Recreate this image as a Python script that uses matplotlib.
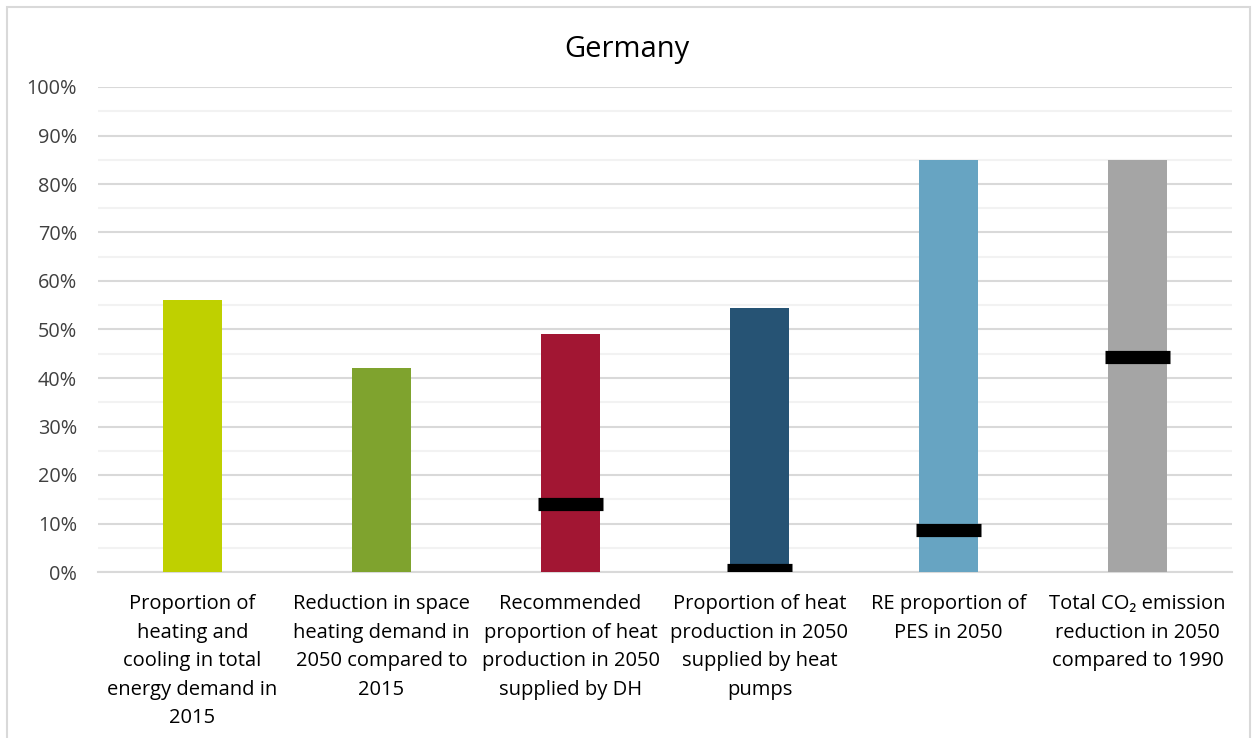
import matplotlib
matplotlib.use("Agg")
import matplotlib.pyplot as plt
from matplotlib.patches import Rectangle
from matplotlib.ticker import MultipleLocator, FuncFormatter

plt.rcParams['font.family'] = ['Open Sans', 'DejaVu Sans']

categories = [
    "Proportion of\nheating and\ncooling in total\nenergy demand in\n2015",
    "Reduction in space\nheating demand in\n2050 compared to\n2015",
    "Recommended\nproportion of heat\nproduction in 2050\nsupplied by DH",
    "Proportion of heat\nproduction in 2050\nsupplied by heat\npumps",
    "RE proportion of\nPES in 2050",
    "Total CO\u2082 emission\nreduction in 2050\ncompared to 1990",
]
bar_values = [0.561, 0.420, 0.490, 0.545, 0.850, 0.850]
marker_cats = [2, 3, 4, 5]
marker_values = [0.141, 0.005, 0.087, 0.443]
colors = ["#BFD000", "#7FA32E", "#A21633", "#265374", "#67A4C2", "#A5A5A5"]

fig = plt.figure(figsize=(12.54, 7.38), dpi=100)
ax = fig.add_axes([98/1254, 1 - 572/738, (1232-98)/1254, (572-87)/738])

x = list(range(len(categories)))
ax.bar(x, bar_values, width=0.31, color=colors, zorder=3)
bw = 0.345
ax.hlines(marker_values, [c - bw/2 for c in marker_cats], [c + bw/2 for c in marker_cats],
          colors="black", linewidth=9.5, zorder=4)

ax.set_xlim(-0.5, len(categories) - 0.5)
ax.set_ylim(0, 1.0)
ax.yaxis.set_major_locator(MultipleLocator(0.1))
ax.yaxis.set_minor_locator(MultipleLocator(0.05))
ax.yaxis.set_major_formatter(FuncFormatter(lambda v, p: f"{v*100:.0f}%"))
ax.grid(axis='y', which='major', color='#D9D9D9', linewidth=1.5, zorder=0)
ax.grid(axis='y', which='minor', color='#F2F2F2', linewidth=1.5, zorder=0)
ax.set_axisbelow(True)
for s in ['top', 'right', 'left']:
    ax.spines[s].set_visible(False)
ax.spines['bottom'].set_color('#D9D9D9')
ax.spines['bottom'].set_linewidth(1.5)
ax.tick_params(axis='y', which='both', length=0, pad=15, labelsize=14.3, labelcolor='#404040')
ax.tick_params(axis='x', length=0, pad=16, labelsize=14.5, labelcolor='#000000')
ax.set_xticks(x)
ax.set_xticklabels(categories, linespacing=1.57, ha='center', va='top')

fig.text(0.5, 1 - 50/738, "Germany", ha='center', va='center', fontsize=21, color='#000000')

fig.patches.append(Rectangle((7/1254, -0.05), (1250-7)/1254, 1 - 7/738 + 0.05,
                             transform=fig.transFigure, fill=False,
                             edgecolor='#D9D9D9', linewidth=1.5))

fig.savefig("out.png", dpi=100)
